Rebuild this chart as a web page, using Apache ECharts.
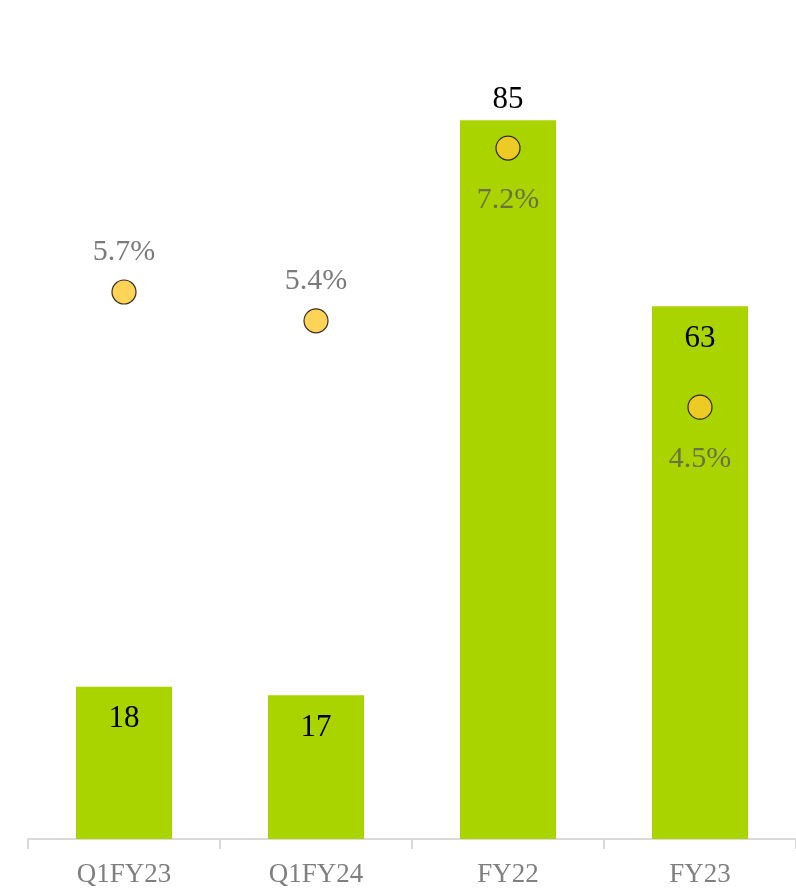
<!DOCTYPE html>
<html>
<head>
    <meta charset="utf-8">
    <script src="https://cdn.jsdelivr.net/npm/echarts@6/dist/echarts.min.js"></script>
    <style>
        html, body { margin: 0; padding: 0; background: #fff; }
    </style>
</head>
<body>
    <div id="main" style="width:796px; height:892px;"></div>
<script type="text/javascript">
    // data
    const categories = ['Q1FY23', 'Q1FY24', 'FY22', 'FY23'];
    const barValues = [18, 17, 85, 63];
    const pctValues = [5.7, 5.4, 7.2, 4.5];
    const pctLabelPos = ['top', 'top', 'bottom', 'bottom'];

    const serif = '"Liberation Serif", "DejaVu Serif", serif';

    const myChart = echarts.init(document.getElementById('main'));

    let option = {
        animation: false,
        grid: { left: 28, right: 0, top: 78, bottom: 53 },
        xAxis: {
            type: 'category',
            data: categories,
            axisLine: { lineStyle: { color: '#d9d9d9', width: 2 } },
            axisTick: { show: true, alignWithLabel: false, length: 10, lineStyle: { color: '#d9d9d9', width: 2 } },
            axisLabel: {
                color: '#7f7f7f',
                fontFamily: serif,
                fontSize: 27,
                margin: 22
            }
        },
        yAxis: [
            { type: 'value', min: 0, max: 90, show: false, splitLine: { show: false } },
            { type: 'value', min: 0, max: 7.93, show: false, splitLine: { show: false } }
        ],
        series: [
            {
                type: 'bar',
                data: barValues.map((v, i) => ({
                    value: v,
                    label: i === 2
                        ? { position: 'top', distance: 5 }
                        : { position: 'insideTop', distance: 17 }
                })),
                barWidth: '50%',
                itemStyle: { color: '#aad400' },
                label: {
                    show: true,
                    color: '#000',
                    fontFamily: serif,
                    fontSize: 31
                }
            },
            {
                type: 'scatter',
                yAxisIndex: 1,
                data: pctValues.map((v, i) => ({
                    value: v,
                    label: {
                        position: pctLabelPos[i],
                        distance: pctLabelPos[i] === 'top' ? 12 : 24
                    }
                })),
                symbol: 'circle',
                symbolSize: 24,
                itemStyle: { color: '#ffc82d', borderColor: '#000', borderWidth: 1.2 },
                label: {
                    show: true,
                    color: '#595959',
                    fontFamily: serif,
                    fontSize: 30,
                    formatter: p => p.value.toFixed(1) + '%'
                },
                z: 5
            }
        ]
    };
    option && myChart.setOption(option);
</script>
</body>
</html>
